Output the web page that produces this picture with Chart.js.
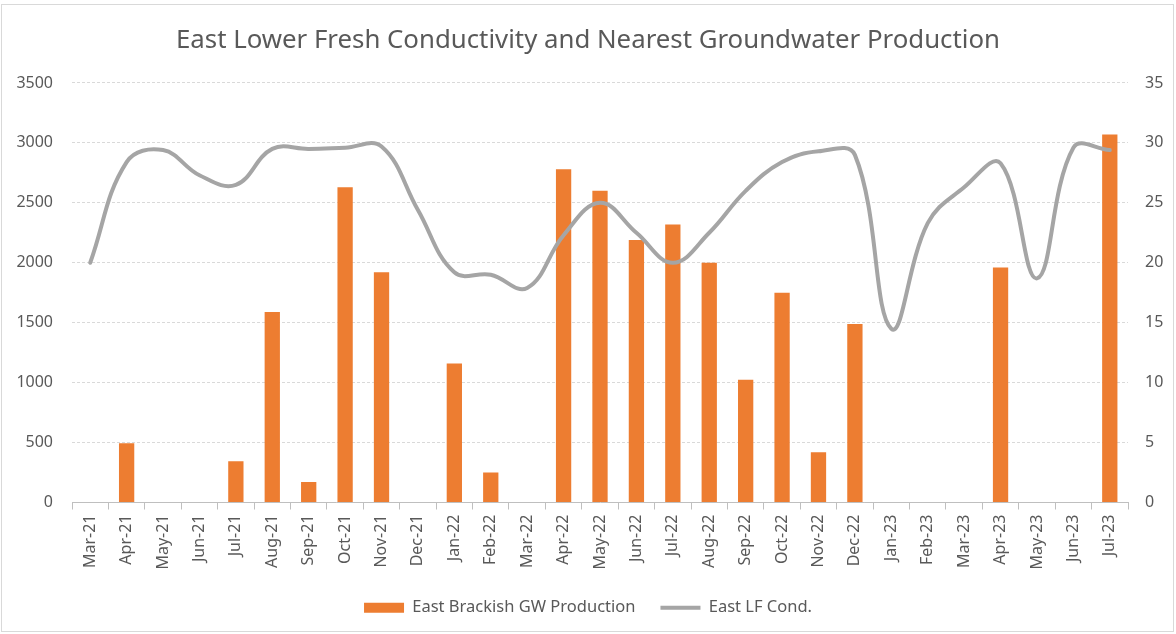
<!DOCTYPE html>
<html>
<head>
<meta charset="utf-8">
<script src="https://cdn.jsdelivr.net/npm/chart.js@4.4.1/dist/chart.umd.min.js"></script>
<style>
  html, body { margin: 0; padding: 0; background: #ffffff; }
  #wrap { position: relative; width: 1176px; height: 634px; }
  #frame { position: absolute; left: 1px; top: 4px; width: 1171px; height: 626px; border: 1px solid #D9D9D9; pointer-events: none; }
</style>
</head>
<body>
<div id="wrap">
  <canvas id="c" width="1176" height="634"></canvas>
  <div id="frame"></div>
</div>
<script>
const categories = ["Mar-21","Apr-21","May-21","Jun-21","Jul-21","Aug-21","Sep-21","Oct-21","Nov-21","Dec-21",
  "Jan-22","Feb-22","Mar-22","Apr-22","May-22","Jun-22","Jul-22","Aug-22","Sep-22","Oct-22","Nov-22","Dec-22",
  "Jan-23","Feb-23","Mar-23","Apr-23","May-23","Jun-23","Jul-23"];
const productionValues = [null, 495, null, null, 345, 1590, 170, 2630, 1920, null,
  1160, 250, null, 2780, 2600, 2190, 2320, 2000, 1025, 1750, 420, 1490,
  null, null, null, 1960, null, null, 3070];
const conductivityValues = [20, 28.4, 29.4, 27.3, 26.5, 29.5, 29.5, 29.6, 29.7, 24.4,
  19.2, 19.0, 17.9, 22.3, 25.0, 22.5, 20.0, 22.5, 26.0, 28.4, 29.3, 29.0,
  14.5, 23.3, 26.3, 28.3, 18.7, 29.6, 29.4];
const leftTicks = [0, 500, 1000, 1500, 2000, 2500, 3000, 3500];
const rightTicks = [0, 5, 10, 15, 20, 25, 30, 35];
const seriesNames = ["East Brackish GW Production", "East LF Cond."];

const FONT = "'Noto Sans', 'Open Sans', sans-serif";
const TXT = "#595959";

new Chart(document.getElementById('c'), {
  data: {
    labels: categories,
    datasets: [
      {
        type: 'bar',
        label: seriesNames[0],
        data: productionValues,
        backgroundColor: '#ED7D31',
        borderWidth: 0,
        yAxisID: 'y',
        categoryPercentage: 1.0,
        barPercentage: 0.42,
        order: 1,
        pointStyle: 'rect'
      },
      {
        type: 'line',
        label: seriesNames[1],
        data: conductivityValues,
        borderColor: '#A5A5A5',
        backgroundColor: '#A5A5A5',
        borderWidth: 4,
        pointRadius: 0,
        tension: 0.4,
        yAxisID: 'y1',
        order: 0,
        pointStyle: 'line',
        borderCapStyle: 'round'
      }
    ]
  },
  options: {
    responsive: false,
    animation: false,
    layout: { padding: { left: 0, right: 0, top: 4, bottom: 8 } },
    plugins: {
      title: {
        display: true,
        text: 'East Lower Fresh Conductivity and Nearest Groundwater Production',
        color: TXT,
        font: { family: FONT, size: 25.8, weight: 'normal' },
        padding: { top: 21, bottom: 27 }
      },
      legend: {
        position: 'bottom',
        labels: {
          color: TXT,
          font: { family: FONT, size: 16.5 },
          usePointStyle: true,
          pointStyleWidth: 40,
          boxHeight: 10,
          padding: 25,
          sort: (a, b) => a.datasetIndex - b.datasetIndex
        }
      },
      tooltip: { enabled: false }
    },
    scales: {
      x: {
        type: 'category',
        offset: true,
        grid: { display: true, offset: true, drawOnChartArea: false, drawTicks: true, tickLength: 7, color: '#BFBFBF' },
        border: { display: true, color: '#BFBFBF', width: 1 },
        ticks: { color: TXT, font: { family: FONT, size: 16 }, minRotation: 90, maxRotation: 90, padding: 5, autoSkip: false },
        afterFit: (s) => { s.height = 72; }
      },
      y: {
        type: 'linear',
        position: 'left',
        min: 0, max: 3500,
        afterBuildTicks: (s) => { s.ticks = leftTicks.map(v => ({ value: v })); },
        grid: { color: '#D9D9D9', drawTicks: false, lineWidth: 1 },
        border: { display: false, dash: [3, 2] },
        ticks: { color: TXT, font: { family: FONT, size: 16 }, padding: 19, callback: (v) => String(v) },
        afterFit: (s) => { s.width = 72; }
      },
      y1: {
        type: 'linear',
        position: 'right',
        min: 0, max: 35,
        afterBuildTicks: (s) => { s.ticks = rightTicks.map(v => ({ value: v })); },
        grid: { drawOnChartArea: false, drawTicks: false },
        border: { display: false },
        ticks: { color: TXT, font: { family: FONT, size: 16 }, padding: 17, callback: (v) => String(v) },
        afterFit: (s) => { s.width = 48; }
      }
    }
  }
});
</script>
</body>
</html>
